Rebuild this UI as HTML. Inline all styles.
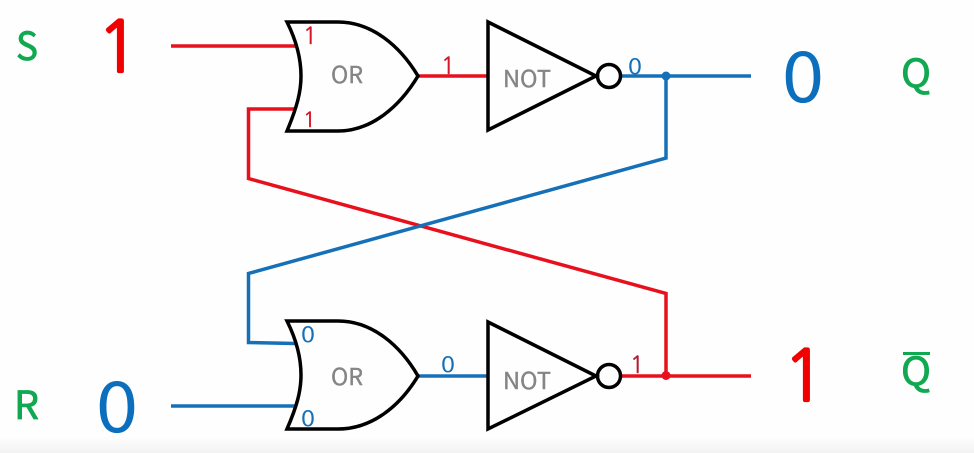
<!DOCTYPE html>
<html>
<head>
<meta charset="utf-8">
<style>
html,body{margin:0;padding:0;background:#fff;width:974px;height:453px;overflow:hidden}
svg{display:block}
text{font-family:"Noto Sans CJK JP","Liberation Sans",sans-serif}
text.b{font-family:"NanumGothic","Liberation Sans",sans-serif}
</style>
</head>
<body>
<svg width="974" height="453" viewBox="0 0 974 453" xmlns="http://www.w3.org/2000/svg">
<defs>
<linearGradient id="b" x1="0" y1="0" x2="0" y2="1"><stop offset="0" stop-color="#fefefe"/><stop offset="1" stop-color="#f3f3f3"/></linearGradient>
</defs>
<rect width="974" height="453" fill="#fefefe"/>
<rect y="436" width="974" height="17" fill="url(#b)"/>

<!-- red wires -->
<g fill="none" stroke="#e8101c" stroke-width="3.5">
<path d="M171 46H297"/>
<path d="M295 109H248.500V178.500L666 293.500V376"/>
<path d="M418 76H488"/>
<path d="M620 376H751"/>
</g>
<circle cx="666" cy="375.500" r="4.500" fill="#e8101c"/>

<!-- blue wires -->
<g fill="none" stroke="#1570b8" stroke-width="3.5">
<path d="M171 406H297"/>
<path d="M295 343.500L248.500 342.500V273.500L666 158V76"/>
<path d="M418 376H488"/>
<path d="M620 76H751"/>
</g>
<circle cx="666" cy="76" r="4.500" fill="#1570b8"/>

<!-- OR gates -->
<g fill="#fff" fill-opacity="0" stroke="#000" stroke-width="3.5" stroke-linejoin="miter">
<path d="M287 22H338C372 22 400 46 418 76C400 106 372 131 338 131H287C297 107 301 92 301 76C301 60 297 42 287 22Z"/>
<path d="M287 321H338C372 321 400 345 418 376C400 406 372 429 338 429H287C297 406 301 391 301 375C301 359 297 341 287 321Z"/>
<!-- NOT gates -->
<path d="M488 22V130L596 76Z"/>
<path d="M488 322V429L596 376Z"/>
<circle cx="609" cy="76" r="11.500"/>
<circle cx="609" cy="376" r="11.500"/>
</g>

<!-- gate labels -->
<g fill="#858585" font-size="23" stroke="#858585" stroke-width="0.4">
<text x="331" y="83" textLength="32" lengthAdjust="spacingAndGlyphs">OR</text>
<text x="331" y="385" textLength="32" lengthAdjust="spacingAndGlyphs">OR</text>
<text x="503" y="87" textLength="48" lengthAdjust="spacingAndGlyphs">NOT</text>
<text x="503" y="389" textLength="48" lengthAdjust="spacingAndGlyphs">NOT</text>
</g>

<!-- small values -->
<g fill="#d8162a" stroke="#d8162a" stroke-width="0.4" font-size="23">
<text class="b" x="303" y="44">1</text>
<text class="b" x="303" y="127" font-size="21">1</text>
<text class="b" x="441" y="74">1</text>
<text class="b" x="630" y="373" fill="#b01c30" stroke="#b01c30">1</text>
</g>
<g fill="#1570b8" font-size="22">
<text x="301" y="342" textLength="14" lengthAdjust="spacingAndGlyphs">0</text>
<text x="301" y="426" textLength="14" lengthAdjust="spacingAndGlyphs">0</text>
<text x="441" y="372" textLength="14" lengthAdjust="spacingAndGlyphs">0</text>
<text x="628" y="74" textLength="14" lengthAdjust="spacingAndGlyphs">0</text>
</g>

<!-- big values -->
<text class="b" x="97" y="72" font-size="70" fill="#f00000" stroke="#f00000" stroke-width="2.2">1</text>
<text x="96" y="432" font-size="70" fill="#0c6fbe" textLength="42" lengthAdjust="spacingAndGlyphs">0</text>
<text x="782" y="102" font-size="70" fill="#0c6fbe" textLength="42" lengthAdjust="spacingAndGlyphs">0</text>
<text class="b" x="783" y="401" font-size="70" fill="#f00000" stroke="#f00000" stroke-width="2.2">1</text>

<!-- terminal names -->
<g fill="#10a850" font-size="39" stroke="#10a850" stroke-width="0.8">
<text x="16" y="60" textLength="22" lengthAdjust="spacingAndGlyphs">S</text>
<text x="14" y="419" textLength="25" lengthAdjust="spacingAndGlyphs">R</text>
<text x="901" y="87" textLength="30" lengthAdjust="spacingAndGlyphs">Q</text>
<text x="901" y="385" textLength="30" lengthAdjust="spacingAndGlyphs">Q</text>
</g>
<rect x="903" y="352" width="27" height="3" fill="#10a850"/>
</svg>
</body>
</html>
